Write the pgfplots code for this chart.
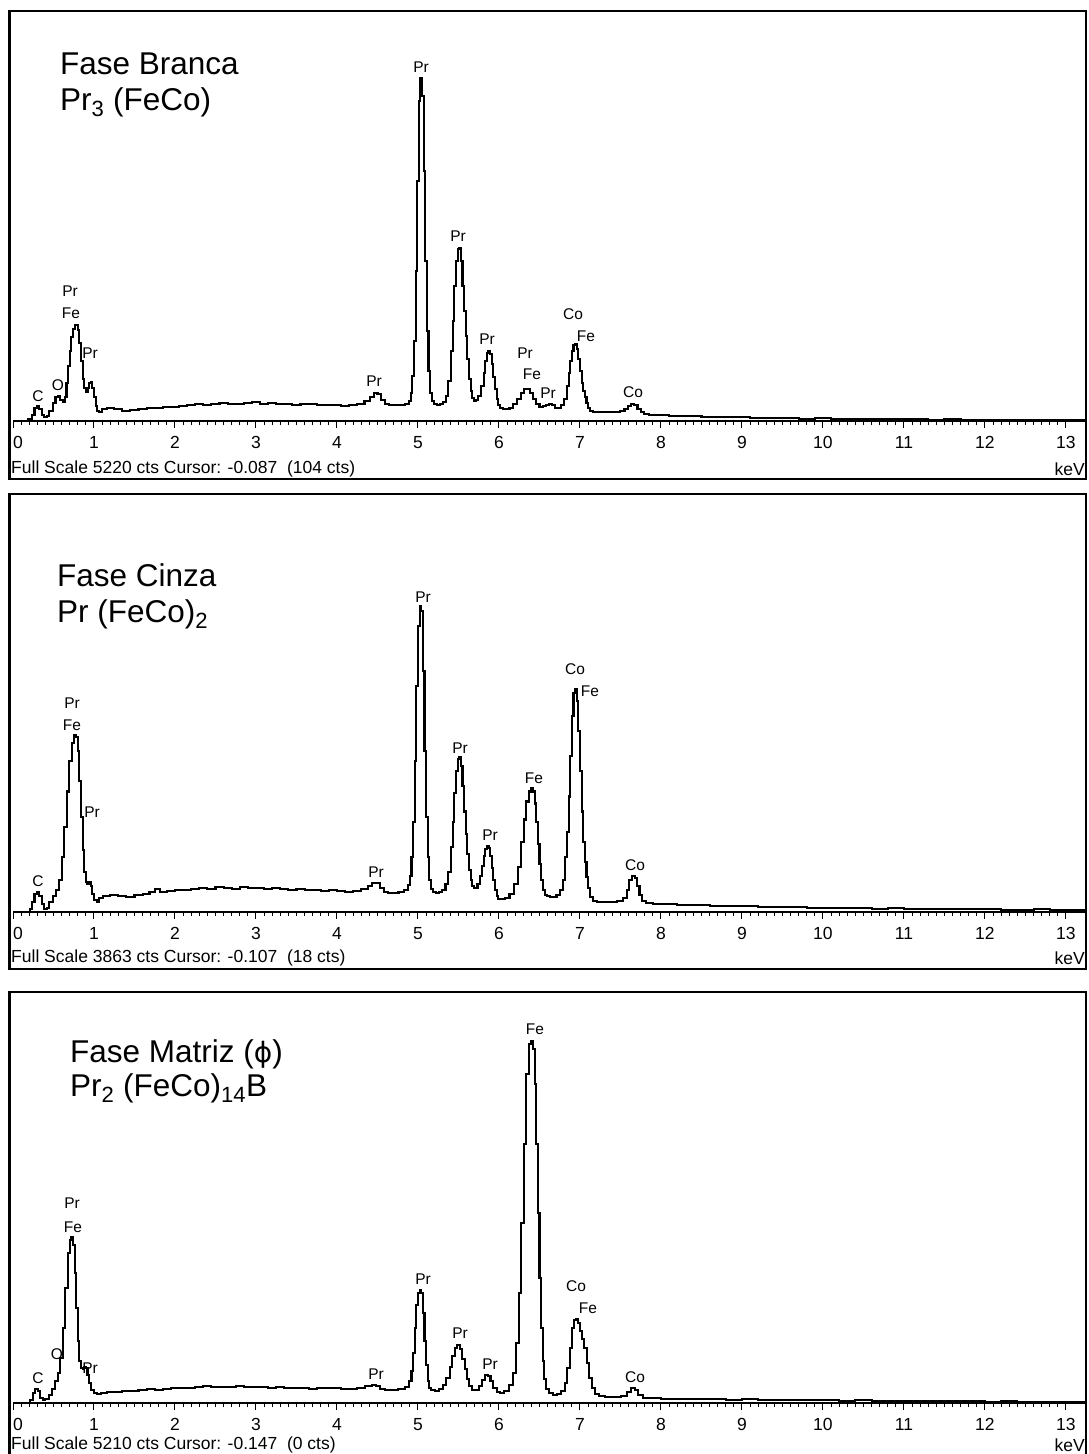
\documentclass[border=0pt]{standalone}
\usepackage{pgfplots}
\pgfplotsset{compat=1.18}
\usepackage{fontspec}
\setmainfont{Liberation Sans}
\newfontfamily\dejavu{DejaVu Sans}

% Common look of the three EDS spectra
\pgfplotsset{
  edsaxis/.style={
    anchor=south west,
    scale only axis,
    width=1072pt,
    xmin=0, xmax=13.235,
    ymin=0,
    axis x line=bottom,
    axis y line=none,
    x axis line style={-, line width=1.9pt},
    xtick={0,...,13},
    xticklabels={\makebox[0pt][l]{0},1,2,3,4,5,6,7,8,9,10,11,12,13},
    minor x tick num=9,
    tick align=outside,
    major tick length=7pt,
    minor tick length=4pt,
    every tick/.style={black, line width=1pt},
    /pgf/number format/assume math mode=true,
    xticklabel style={font=\fontsize{17.5}{17.5}\selectfont, yshift=-5pt},
  },
  spectrum/.style={black, line width=2.1pt, const plot mark mid, no marks},
}
\newcommand{\pkfont}{\fontsize{15.5}{15.5}\selectfont}
\newcommand{\smfont}{\fontsize{17.5}{17.5}\selectfont}
\newcommand{\bigfont}{\fontsize{31.5}{36}\selectfont}

\begin{document}
\begin{tikzpicture}
\useasboundingbox (0pt,0pt) rectangle (1088pt,-1454pt);

% ---------------- Fase Branca ----------------
\begin{axis}[edsaxis, at={(13pt,-421pt)}, height=409pt, ymax=5220]
\addplot[spectrum] table {
0.00 0
0.17 0
0.21 26
0.25 77
0.28 166
0.31 191
0.34 153
0.37 77
0.40 51
0.43 64
0.47 128
0.51 230
0.54 306
0.57 319
0.60 268
0.63 242
0.65 306
0.67 485
0.69 702
0.71 893
0.73 1072
0.75 1174
0.77 1225
0.79 1225
0.81 1161
0.83 995
0.85 766
0.87 536
0.89 421
0.91 370
0.93 421
0.95 485
0.97 498
0.99 421
1.01 306
1.03 191
1.05 128
1.08 115
1.11 153
1.20 166
1.30 153
1.40 128
1.50 140
1.60 153
1.70 166
1.80 166
1.90 179
2.00 179
2.10 191
2.20 204
2.30 217
2.40 204
2.50 217
2.60 230
2.70 217
2.80 217
2.90 230
3.00 242
3.10 217
3.20 230
3.30 217
3.40 217
3.50 204
3.60 217
3.70 217
3.80 204
3.90 204
4.00 204
4.10 191
4.20 204
4.30 217
4.38 255
4.43 306
4.48 357
4.52 345
4.57 268
4.62 217
4.67 204
4.75 204
4.82 204
4.87 217
4.90 255
4.92 357
4.94 574
4.96 1021
4.98 1914
5.00 3062
5.02 4083
5.04 4377
5.06 4147
5.08 3190
5.10 2042
5.12 1148
5.14 638
5.16 357
5.18 255
5.21 217
5.25 204
5.29 217
5.33 242
5.36 319
5.39 510
5.42 893
5.44 1276
5.46 1723
5.48 2042
5.50 2195
5.52 2207
5.54 2042
5.56 1723
5.58 1404
5.60 1085
5.62 791
5.64 536
5.66 383
5.68 293
5.70 255
5.73 268
5.76 319
5.80 447
5.82 612
5.84 766
5.86 868
5.88 893
5.90 855
5.92 727
5.94 561
5.96 408
5.98 281
6.00 204
6.03 166
6.07 153
6.11 153
6.15 166
6.20 217
6.25 281
6.29 357
6.33 408
6.37 408
6.40 357
6.44 281
6.48 217
6.52 179
6.56 191
6.60 204
6.63 217
6.67 204
6.71 166
6.75 166
6.79 204
6.82 281
6.85 447
6.87 612
6.89 766
6.91 893
6.93 970
6.95 983
6.97 919
6.99 791
7.01 638
7.03 485
7.05 383
7.07 306
7.09 230
7.11 166
7.14 128
7.19 115
7.26 115
7.36 115
7.46 115
7.53 128
7.57 153
7.61 191
7.65 217
7.69 204
7.73 153
7.77 115
7.81 89
7.90 77
8.00 77
8.20 64
8.40 64
8.60 51
8.80 51
9.00 51
9.20 38
9.40 38
9.60 38
9.80 26
10.00 38
10.20 26
10.40 26
10.60 26
10.80 26
11.00 26
11.20 26
11.40 13
11.60 26
11.80 13
12.00 13
12.20 13
12.40 13
12.60 13
12.80 13
13.00 13
13.24 13
};
\end{axis}

% ---------------- Fase Cinza ----------------
\begin{axis}[edsaxis, at={(13pt,-912pt)}, height=412pt, ymax=3863]
\addplot[spectrum] table {
0.00 0
0.19 0
0.22 28
0.25 94
0.28 170
0.31 188
0.34 151
0.37 75
0.40 28
0.43 38
0.47 94
0.51 151
0.55 207
0.59 301
0.62 518
0.65 801
0.68 1130
0.71 1413
0.74 1583
0.77 1658
0.79 1639
0.81 1507
0.83 1225
0.85 895
0.87 584
0.89 377
0.91 283
0.93 264
0.95 283
0.97 245
0.99 170
1.02 113
1.05 94
1.08 132
1.15 151
1.25 160
1.35 151
1.45 141
1.55 160
1.65 170
1.72 188
1.78 217
1.85 188
1.95 198
2.05 207
2.15 207
2.25 217
2.35 226
2.45 217
2.55 236
2.65 226
2.75 217
2.85 236
2.95 226
3.05 226
3.15 217
3.25 226
3.35 217
3.45 207
3.55 217
3.65 207
3.75 207
3.85 198
3.95 207
4.05 198
4.15 188
4.25 198
4.35 217
4.41 245
4.46 273
4.51 273
4.56 226
4.61 188
4.66 179
4.72 179
4.80 188
4.86 207
4.89 254
4.91 339
4.93 518
4.95 848
4.97 1413
4.99 2120
5.01 2685
5.03 2873
5.05 2826
5.07 2261
5.09 1507
5.11 895
5.13 518
5.15 301
5.17 217
5.20 188
5.24 179
5.28 188
5.32 207
5.36 264
5.39 377
5.42 612
5.44 848
5.46 1112
5.48 1319
5.50 1432
5.52 1451
5.54 1366
5.56 1178
5.58 942
5.60 735
5.62 546
5.64 396
5.66 301
5.68 245
5.70 226
5.72 226
5.75 264
5.78 339
5.80 433
5.82 528
5.84 593
5.86 622
5.88 603
5.90 528
5.92 414
5.94 301
5.96 207
5.98 151
6.00 122
6.04 122
6.10 132
6.16 170
6.21 264
6.25 424
6.29 659
6.32 867
6.35 1036
6.38 1130
6.41 1159
6.43 1130
6.45 1017
6.47 848
6.49 641
6.51 452
6.53 301
6.55 207
6.58 160
6.61 151
6.65 141
6.69 141
6.73 160
6.77 207
6.80 301
6.83 518
6.85 754
6.87 1083
6.89 1460
6.91 1837
6.93 2054
6.95 2091
6.97 1978
6.99 1696
7.01 1319
7.03 942
7.05 659
7.07 471
7.09 330
7.11 226
7.14 141
7.18 104
7.23 94
7.31 94
7.41 94
7.51 104
7.56 132
7.59 207
7.63 301
7.66 339
7.69 320
7.72 245
7.75 160
7.79 104
7.85 85
7.95 75
8.10 75
8.30 66
8.50 66
8.70 57
8.90 57
9.10 57
9.30 47
9.50 47
9.70 47
9.90 38
10.10 38
10.30 38
10.50 38
10.70 28
10.90 38
11.10 28
11.30 28
11.50 28
11.70 28
11.90 28
12.10 28
12.30 19
12.50 19
12.70 28
12.90 19
13.24 19
};
\end{axis}

% ---------------- Fase Matriz ----------------
\begin{axis}[edsaxis, at={(13pt,-1403pt)}, height=410pt, ymax=5210]
\addplot[spectrum] table {
0.00 0
0.20 0
0.23 38
0.26 127
0.29 178
0.32 152
0.35 63
0.38 38
0.42 51
0.46 101
0.50 178
0.54 279
0.57 380
0.60 571
0.63 951
0.66 1458
0.69 1902
0.71 2067
0.73 2105
0.75 2003
0.77 1648
0.79 1205
0.81 786
0.83 533
0.85 444
0.87 431
0.89 456
0.91 444
0.93 355
0.95 254
0.98 165
1.02 127
1.06 114
1.12 127
1.20 139
1.30 139
1.40 152
1.50 152
1.60 165
1.70 178
1.80 165
1.90 178
2.00 190
2.10 190
2.20 190
2.30 203
2.40 216
2.50 203
2.60 203
2.70 203
2.80 216
2.90 203
3.00 203
3.10 203
3.20 190
3.30 203
3.40 190
3.50 190
3.60 190
3.70 178
3.80 190
3.90 190
4.00 190
4.10 178
4.20 178
4.30 190
4.40 216
4.46 228
4.51 216
4.56 178
4.62 165
4.70 165
4.80 178
4.87 203
4.91 279
4.93 406
4.95 634
4.97 951
4.99 1243
5.01 1395
5.03 1433
5.05 1395
5.07 1141
5.09 786
5.11 482
5.13 279
5.15 190
5.18 165
5.23 152
5.29 178
5.33 228
5.37 317
5.41 456
5.44 596
5.47 697
5.50 735
5.53 685
5.56 558
5.59 431
5.62 304
5.65 216
5.69 165
5.73 165
5.77 216
5.81 292
5.85 355
5.88 342
5.91 279
5.95 190
5.99 139
6.03 127
6.09 152
6.15 228
6.19 380
6.23 761
6.26 1395
6.29 2282
6.32 3297
6.35 4184
6.38 4565
6.41 4603
6.43 4501
6.45 4058
6.47 3297
6.49 2409
6.51 1585
6.53 951
6.55 533
6.57 304
6.60 178
6.64 127
6.69 101
6.75 114
6.79 152
6.83 254
6.86 444
6.89 697
6.92 951
6.94 1052
6.96 1065
6.98 1014
7.01 913
7.04 812
7.07 697
7.10 507
7.13 317
7.16 190
7.20 114
7.26 89
7.36 76
7.46 76
7.56 89
7.61 139
7.66 190
7.70 165
7.74 101
7.81 63
7.91 63
8.10 51
8.30 51
8.50 51
8.70 51
8.90 38
9.10 51
9.30 38
9.50 38
9.70 38
9.90 38
10.10 38
10.30 25
10.50 38
10.70 25
10.90 25
11.10 25
11.30 25
11.50 25
11.70 25
11.90 25
12.10 13
12.30 25
12.50 13
12.70 13
12.90 13
13.24 13
};
\end{axis}

% ---------------- frames, captions and line labels ----------------
\begin{scope}[x=1pt, y=-1pt]
  \draw[line width=2.4pt] (9.5,11) rectangle (1086,479);
  \draw[line width=2.4pt] (9.5,494) rectangle (1086,969);
  \draw[line width=2.4pt] (9.5,1460) -- (9.5,992) -- (1086,992) -- (1086,1460);

  % panel titles
  \node[anchor=base west, inner sep=0, font=\bigfont] at (60,74) {Fase Branca};
  \node[anchor=base west, inner sep=0, font=\bigfont] at (60,110) {Pr\textsubscript{3} (FeCo)};
  \node[anchor=base west, inner sep=0, font=\bigfont] at (57,586) {Fase Cinza};
  \node[anchor=base west, inner sep=0, font=\bigfont] at (57,622) {Pr (FeCo)\textsubscript{2}};
  \node[anchor=base west, inner sep=0, font=\bigfont] at (70,1062) {Fase Matriz ({\dejavu\fontsize{28}{34}\selectfont ϕ})};
  \node[anchor=base west, inner sep=0, font=\bigfont] at (70,1096) {Pr\textsubscript{2} (FeCo)\textsubscript{14}B};

  % status lines and unit
  \node[anchor=west, inner sep=0, font=\smfont] at (11,469) {Full Scale 5220 cts Cursor: -0.087\ \ (104 cts)};
  \node[anchor=east, inner sep=0, font=\smfont] at (1085,469) {keV};
  \node[anchor=west, inner sep=0, font=\smfont] at (11,958) {Full Scale 3863 cts Cursor: -0.107\ \ (18 cts)};
  \node[anchor=east, inner sep=0, font=\smfont] at (1085,958) {keV};
  \node[anchor=west, inner sep=0, font=\smfont] at (11,1445) {Full Scale 5210 cts Cursor: -0.147\ \ (0 cts)};
  \node[anchor=east, inner sep=0, font=\smfont] at (1085,1445) {keV};

  % line identifications
  \begin{scope}[every node/.style={font=\pkfont, inner sep=0}]
  % Fase Branca
  \node at (38,396) {C};
  \node at (58,385) {O};
  \node at (70,291) {Pr};
  \node at (71,313) {Fe};
  \node at (90,353) {Pr};
  \node at (374,381) {Pr};
  \node at (421,67) {Pr};
  \node at (458,236) {Pr};
  \node at (487,339) {Pr};
  \node at (525,353) {Pr};
  \node at (532,374) {Fe};
  \node at (548,393) {Pr};
  \node at (573,314) {Co};
  \node at (586,336) {Fe};
  \node at (633,392) {Co};
  % Fase Cinza
  \node at (38,881) {C};
  \node at (72,703) {Pr};
  \node at (72,725) {Fe};
  \node at (92,812) {Pr};
  \node at (376,872) {Pr};
  \node at (423,597) {Pr};
  \node at (460,748) {Pr};
  \node at (490,835) {Pr};
  \node at (534,778) {Fe};
  \node at (575,669) {Co};
  \node at (590,691) {Fe};
  \node at (635,865) {Co};
  % Fase Matriz
  \node at (38,1378) {C};
  \node at (57,1354) {O};
  \node at (72,1203) {Pr};
  \node at (73,1227) {Fe};
  \node at (90,1368) {Pr};
  \node at (376,1374) {Pr};
  \node at (423,1279) {Pr};
  \node at (460,1333) {Pr};
  \node at (490,1364) {Pr};
  \node at (535,1029) {Fe};
  \node at (576,1286) {Co};
  \node at (588,1308) {Fe};
  \node at (635,1377) {Co};
  \end{scope}
\end{scope}
\end{tikzpicture}
\end{document}
